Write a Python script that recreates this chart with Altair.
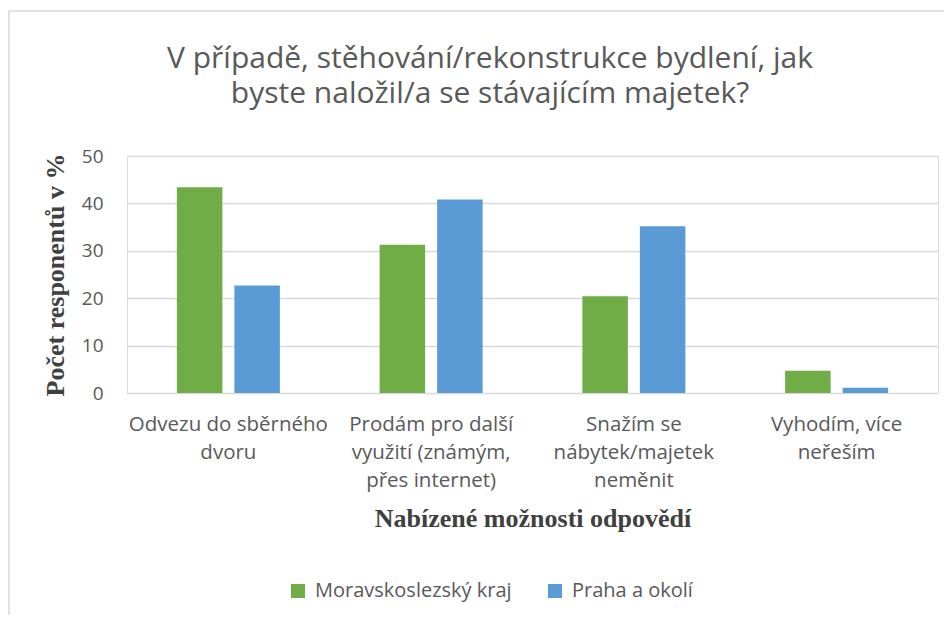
import altair as alt
import pandas as pd

categories = [
    "Odvezu do sběrného\ndvoru",
    "Prodám pro další\nvyužití (známým,\npřes internet)",
    "Snažím se\nnábytek/majetek\nneměnit",
    "Vyhodím, více\nneřeším",
]
series = ["Moravskoslezský kraj", "Praha a okolí"]
moravskoslezsky = [43.4, 31.3, 20.4, 4.7]
praha = [22.7, 40.8, 35.2, 1.1]
colors = ["#70AD47", "#5B9BD5"]
y_ticks = [0, 10, 20, 30, 40, 50]
title_lines = [
    "V případě, stěhování/rekonstrukce bydlení, jak",
    "byste naložil/a se stávajícím majetek?",
]

rows = []
for c, a, b in zip(categories, moravskoslezsky, praha):
    rows.append({"cat": c, "series": series[0], "value": a})
    rows.append({"cat": c, "series": series[1], "value": b})
df = pd.DataFrame(rows)
frame_df = pd.DataFrame({"k": [0]})

W, H = 811, 237
PL, PT, PR, PB = 119, 148, 6, 222

bars = alt.Chart(df).mark_bar().encode(
    x=alt.X(
        "cat:N",
        sort=categories,
        scale=alt.Scale(paddingInner=0, paddingOuter=0),
        axis=alt.Axis(
            title="Nabízené možnosti odpovědí",
            labelAngle=0,
            labelExpr="split(datum.label, '\\n')",
            labelFont="Open Sans",
            labelFontSize=20.5,
            labelColor="#595959",
            labelLineHeight=28,
            labelPadding=21,
            labelLimit=300,
            ticks=False,
            domain=False,
            titleFont="Liberation Serif",
            titleFontSize=26,
            titleFontWeight="bold",
            titleColor="#404040",
            titlePadding=15,
        ),
    ),
    xOffset=alt.XOffset(
        "series:N",
        sort=series,
        scale=alt.Scale(paddingInner=0.209, paddingOuter=0.867),
    ),
    y=alt.Y(
        "value:Q",
        scale=alt.Scale(domain=[0, 50], nice=False),
        axis=alt.Axis(
            title="Počet responentů v %",
            values=y_ticks,
            grid=True,
            gridColor="#D9D9D9",
            gridWidth=1.3,
            ticks=False,
            domain=False,
            labelFont="Open Sans",
            labelFontSize=19,
            labelColor="#595959",
            labelPadding=24,
            titleFont="Liberation Serif",
            titleFontSize=26,
            titleFontWeight="bold",
            titleColor="#404040",
            titlePadding=13,
        ),
    ),
    color=alt.Color(
        "series:N",
        sort=series,
        scale=alt.Scale(domain=series, range=colors),
        legend=alt.Legend(
            title=None,
            orient="none",
            direction="horizontal",
            legendX=161,
            legendY=425,
            symbolType="square",
            symbolSize=196,
            symbolStrokeWidth=0,
            labelFont="Open Sans",
            labelFontSize=20,
            labelColor="#595959",
            labelOffset=7,
            columnPadding=33,
            labelLimit=400,
        ),
    ),
)


def title_line(text, y):
    return alt.Chart(pd.DataFrame({"t": [text]})).mark_text(
        font="Open Sans",
        fontSize=30,
        color="#595959",
        align="center",
        baseline="alphabetic",
    ).encode(text="t:N", x=alt.value(363), y=alt.value(y))


title1 = title_line(title_lines[0], -88)
title2 = title_line(title_lines[1], -53)

frame_top = alt.Chart(frame_df).mark_rule(color="#D9D9D9", strokeWidth=1.5).encode(
    x=alt.value(-PL + 1), x2=alt.value(W + PR), y=alt.value(-PT + 3)
)
frame_left = alt.Chart(frame_df).mark_rule(color="#D9D9D9", strokeWidth=1.5).encode(
    x=alt.value(-PL + 1), y=alt.value(-PT + 3), y2=alt.value(H + PB)
)

chart = (
    alt.layer(bars, title1, title2, frame_top, frame_left)
    .properties(
        width=W,
        height=H,
        autosize=alt.AutoSizeParams(type="none"),
        padding={"left": PL, "top": PT, "right": PR, "bottom": PB},
    )
    .configure_view(stroke=None)
    .configure(background="white")
)

chart.save("out.html", embed_options={"renderer": "svg", "actions": False})
